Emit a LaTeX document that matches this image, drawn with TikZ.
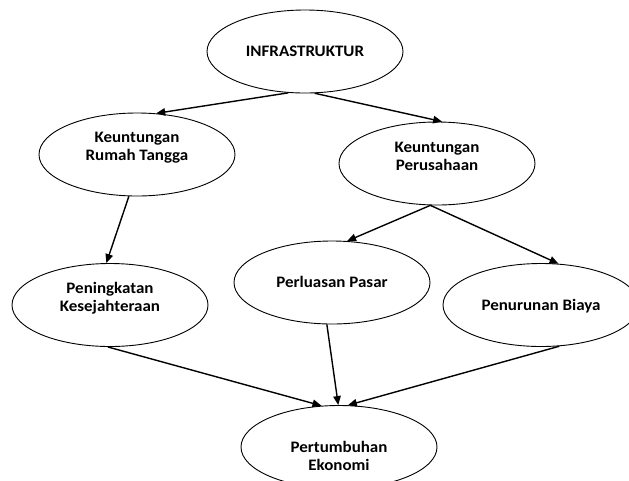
\documentclass[tikz,border=0pt]{standalone}
\usepackage{fontspec}
\setmainfont{Carlito}[FakeStretch=1.06]
\usetikzlibrary{shapes.geometric,arrows.meta}
\begin{document}
\begin{tikzpicture}[x=1pt,y=-1pt,
  ell/.style={draw, ellipse, line width=0.9pt, minimum width=196pt, minimum height=83pt, inner sep=0pt},
  txt/.style={align=center, inner sep=0pt, font=\fontsize{16}{18}\selectfont\bfseries},
  arr/.style={line width=1.4pt, -{Triangle[length=9pt,width=7.5pt]}}]
\useasboundingbox (0,0) rectangle (629,480);
% ellipses
\node[ell] (infra) at (305,51.5) {};
\node[ell] (krt)   at (137,154.5) {};
\node[ell] (kp)    at (437,163.5) {};
\node[ell] (pen)   at (110,305) {};
\node[ell] (perl)  at (332,282.5) {};
\node[ell] (penu)  at (541,305) {};
\node[ell] (pert)  at (339,447) {};
% texts
\node[txt] (infra-t) at ([yshift=0pt]infra.center) {INFRASTRUKTUR};
\node[txt] (krt-t)   at ([yshift=7pt]krt.center) {Keuntungan\\Rumah Tangga};
\node[txt] (kp-t)    at ([yshift=7pt]kp.center) {Keuntungan\\Perusahaan};
\node[txt] (pen-t)   at ([yshift=6.5pt]pen.center) {Peningkatan\\Kesejahteraan};
\node[txt] (perl-t)  at ([yshift=1pt]perl.center) {Perluasan Pasar};
\node[txt] (penu-t)  at ([yshift=-1pt]penu.center) {Penurunan Biaya};
\node[txt] (pert-t)  at ([yshift=-9pt]pert.center) {Pertumbuhan\\Ekonomi};
% connectors
\draw[arr] (infra.248.8) -- (krt.65);
\draw[arr] (infra.283.5) -- (kp.83);
\draw[arr] (krt.259.3) -- (pen.95.4);
\draw[arr] (kp.261.8) -- (perl.70.6);
\draw[arr] (kp.261.8) -- (penu.67.5);
\draw[arr] (pen.267.3) -- (pert.113);
\draw[arr] (perl.263) -- (pert.91.4);
\draw[arr] (penu.294.9) -- (pert.78);
\end{tikzpicture}
\end{document}
